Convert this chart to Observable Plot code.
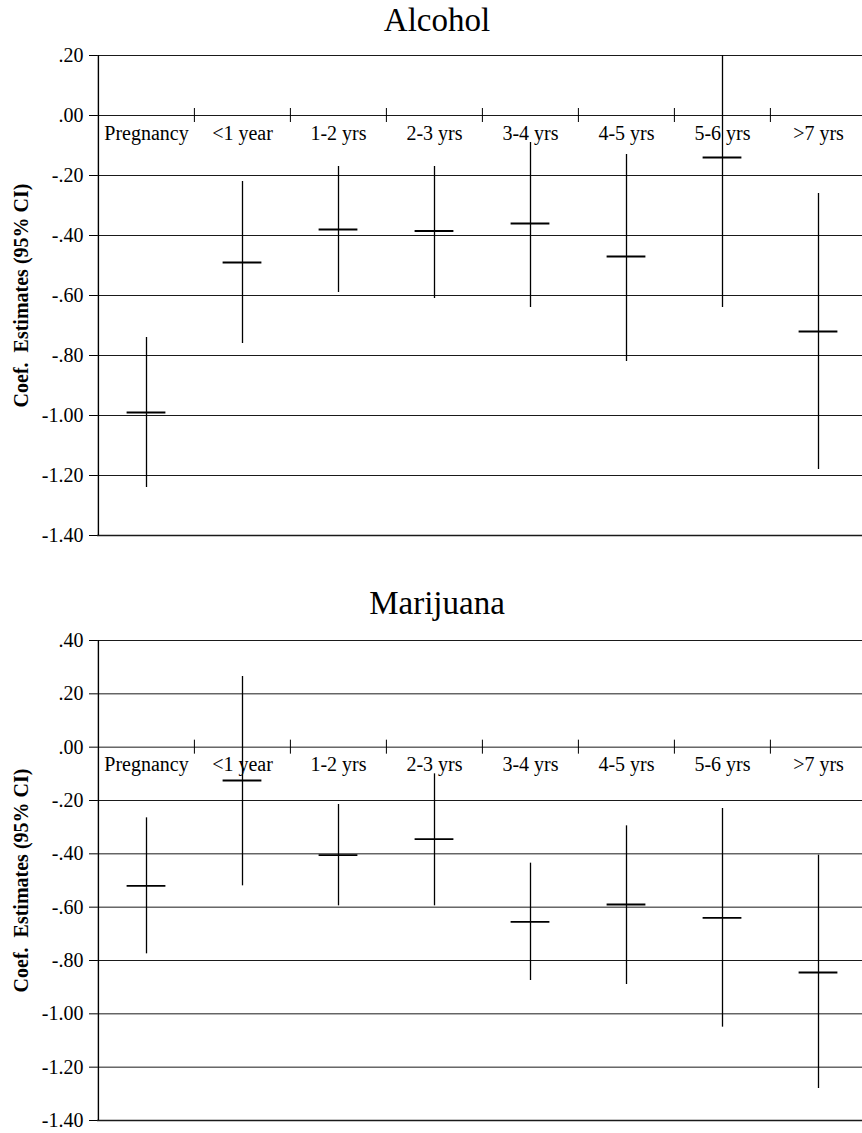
<!DOCTYPE html>
<html><head><meta charset="utf-8">
<script src="https://cdn.jsdelivr.net/npm/d3@7"></script>
<script src="https://cdn.jsdelivr.net/npm/@observablehq/plot@0.6"></script>
<style>
body{margin:0;background:#fff;}
#wrap{position:relative;width:862px;height:1133px;overflow:hidden;background:#fff;}
.title{position:absolute;left:0;width:874px;text-align:center;font-family:'Liberation Serif','DejaVu Serif',serif;font-size:33px;line-height:33px;color:#000;z-index:2}
.panel{position:absolute;left:0}
svg text{font-family:'Liberation Serif','DejaVu Serif',serif !important;}
</style></head><body>
<div id="wrap">
<div class="panel" id="p1" style="top:0"></div>
<div class="panel" id="p2" style="top:565px"></div>
<div class="title" style="top:4px">Alcohol</div>
<div class="title" style="top:587px">Marijuana</div>
</div>
<script>
const categories = ["Pregnancy", "<1 year", "1-2 yrs", "2-3 yrs", "3-4 yrs", "4-5 yrs", "5-6 yrs", ">7 yrs"];

const alcoholEst  = [-0.99, -0.49, -0.38, -0.385, -0.36, -0.47, -0.14, -0.72];
const alcoholLow  = [-1.24, -0.76, -0.59, -0.61, -0.64, -0.82, -0.64, -1.18];
const alcoholHigh = [-0.74, -0.22, -0.17, -0.17, -0.09, -0.13, 0.20, -0.26];

const marijuanaEst  = [-0.52, -0.125, -0.405, -0.345, -0.655, -0.59, -0.64, -0.845];
const marijuanaLow  = [-0.775, -0.52, -0.595, -0.595, -0.875, -0.89, -1.05, -1.28];
const marijuanaHigh = [-0.265, 0.265, -0.215, -0.10, -0.435, -0.295, -0.23, -0.405];

const alcoholTicks = [0.2, 0, -0.2, -0.4, -0.6, -0.8, -1.0, -1.2, -1.4];
const alcoholTickLabels = [".20", ".00", "-.20", "-.40", "-.60", "-.80", "-1.00", "-1.20", "-1.40"];
const marijuanaTicks = [0.4, 0.2, 0, -0.2, -0.4, -0.6, -0.8, -1.0, -1.2, -1.4];
const marijuanaTickLabels = [".40", ".20", ".00", "-.20", "-.40", "-.60", "-.80", "-1.00", "-1.20", "-1.40"];

const yLabel = "Coef.  Estimates (95% CI)";

const FONT = "'Liberation Serif', 'DejaVu Serif', serif";

function makePanel(el, est, low, high, ticks, tickLabels, height, marginTop, marginBottom) {
  const data = categories.map((c, i) => ({cat: c, est: est[i], lo: low[i], hi: high[i]}));
  const labelOf = new Map(ticks.map((t, i) => [t, tickLabels[i]]));
  const left = 97;
  const right = 866.6;
  const bw = (right - left) / categories.length;
  const chart = Plot.plot({
    width: 862,
    height,
    marginLeft: left,
    marginRight: 0,
    marginTop,
    marginBottom,
    style: {fontFamily: FONT, fontSize: "20px", color: "#000", background: "transparent", overflow: "visible"},
    x: {type: "band", domain: categories, range: [left, right], padding: 0, axis: null},
    y: {domain: [ticks[ticks.length - 1], ticks[0]]},
    marks: [
      Plot.ruleY(ticks.slice(0, -1), {stroke: "#1a1a1a", strokeWidth: 1}),
      Plot.ruleY(ticks.slice(-1), {stroke: "#1a1a1a", strokeWidth: 1.6}),
      Plot.ruleX(categories.slice(0, 1), {x: d => d, dx: -bw / 2, stroke: "#000", strokeWidth: 1.4}),
      Plot.axisY(ticks, {tickFormat: d => labelOf.get(d), tickSize: 8, tickPadding: 6, fontSize: 20, fontFamily: FONT, label: null, stroke: "#000"}),
      Plot.ruleX(categories.slice(1), {x: d => d, dx: -bw / 2, y1: () => 0, y2: () => 0, insetTop: -7, insetBottom: -7, stroke: "#000", strokeWidth: 1}),
      Plot.text(categories, {x: d => d, y: () => 0, text: d => d, lineAnchor: "top", dy: 10, fontSize: 20, fontFamily: FONT, fill: "#000"}),
      Plot.ruleX(data, {x: "cat", y1: "lo", y2: "hi", stroke: "#000", strokeWidth: 1.3}),
      Plot.tickY(data, {x: "cat", y: "est", insetLeft: (bw - 39) / 2, insetRight: (bw - 39) / 2, stroke: "#000", strokeWidth: 1.8}),
      Plot.text([yLabel], {frameAnchor: "left", text: d => d, rotate: -90, dx: -76, lineAnchor: "middle", textAnchor: "middle", fontWeight: "bold", fontSize: 20, fontFamily: FONT, fill: "#000"})
    ]
  });
  document.getElementById(el).appendChild(chart);
}

makePanel("p1", alcoholEst, alcoholLow, alcoholHigh, alcoholTicks, alcoholTickLabels, 565, 55, 30);
makePanel("p2", marijuanaEst, marijuanaLow, marijuanaHigh, marijuanaTicks, marijuanaTickLabels, 568, 75, 13);
</script>
</body></html>
